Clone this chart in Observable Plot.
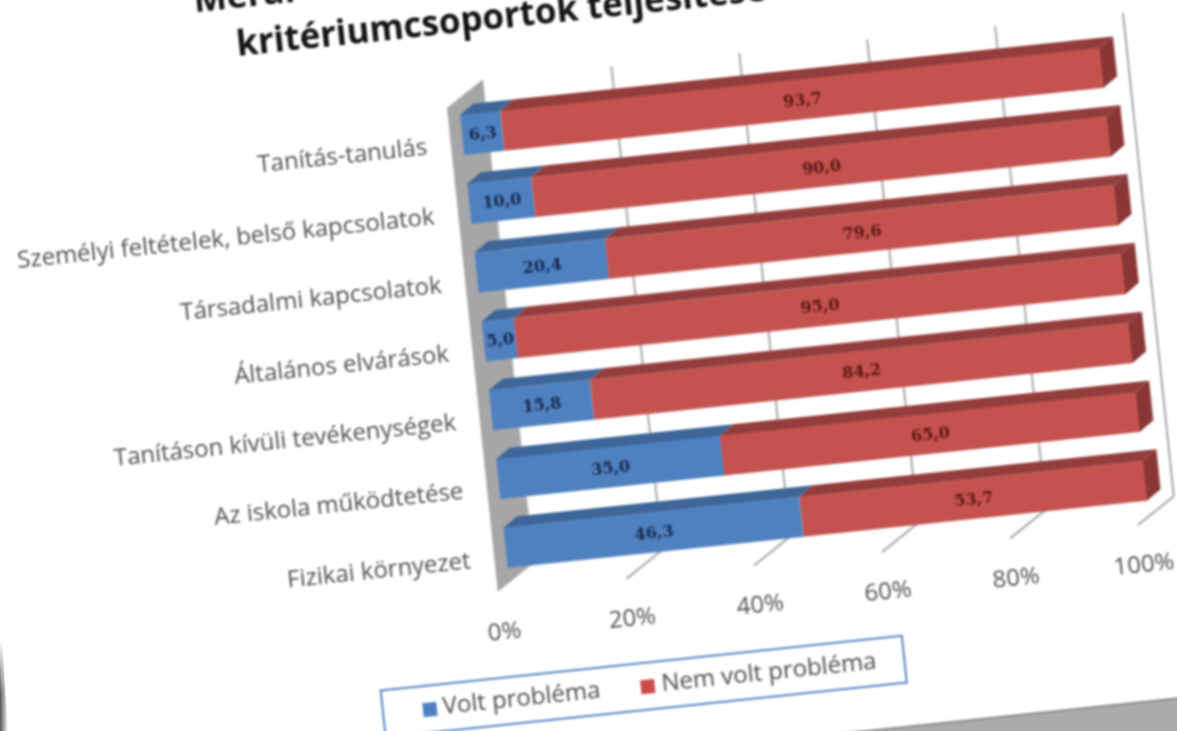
<!DOCTYPE html>
<html lang="hu">
<head>
<meta charset="utf-8">
<script src="https://cdn.jsdelivr.net/npm/d3@7"></script>
<script src="https://cdn.jsdelivr.net/npm/@observablehq/plot@0.6"></script>
<style>
html,body{margin:0;padding:0;width:1177px;height:731px;overflow:hidden;background:#fff}
#tilt{position:absolute;left:0;top:0;width:1400px;height:1100px;transform-origin:0 0;
  transform:matrix(.9945,-.1045,.1045,.9945,-66.5,-111.1);filter:blur(.8px)}
#tilt svg{position:absolute;left:0;top:0;background:transparent;overflow:visible}
.title{position:absolute;font:700 35px "Open Sans",sans-serif;color:#141414;white-space:nowrap;line-height:1}
#legend{position:absolute;left:360px;top:843px;width:522px;height:45px;border:2.5px solid #5585c4;background:#fff;
  font:500 24px "Open Sans",sans-serif;color:#4d4d4d}
#legend span{position:absolute;white-space:nowrap}
#legend i{position:absolute;width:14px;height:14px}
#floor{position:absolute;left:-300px;top:934px;width:2200px;height:400px;background:#ababab;border-top:2px solid #8d8d8d}
#edge{position:absolute;left:0;top:640px;width:8px;height:91px;background:linear-gradient(to right,#555,#fff);
  clip-path:polygon(0 0,25% 0,100% 100%,0 100%);-webkit-mask-image:linear-gradient(to bottom,transparent,#000 60%);mask-image:linear-gradient(to bottom,transparent,#000 60%)}
</style>
</head>
<body>
<div id="tilt"></div>
<div id="edge"></div>
<script>
const categories = ["Tanítás-tanulás","Személyi feltételek, belső kapcsolatok","Társadalmi kapcsolatok","Általános elvárások","Tanításon kívüli tevékenységek","Az iskola működtetése","Fizikai környezet"];
const voltProblema = [6.3,10.0,20.4,5.0,15.8,35.0,46.3];
const nemVoltProblema = [93.7,90.0,79.6,95.0,84.2,65.0,53.7];
const seriesNames = ["Volt probléma","Nem volt probléma"];
const xTicks = [0,20,40,60,80,100];
const titleLines = ["Mérai","kritériumcsoportok teljesítése"];

const halfBar = 0.29, barDx = 2.27, barDy = 0.145;
const wallFront = -1.9, wallBack = 4.13, wallTopF = -0.41, wallBotF = 6.62, wallTopB = -0.77, wallBotB = 6.26;
const hu = v => v.toFixed(1).replace(".", ",");

const segs = categories.flatMap((c,i)=>[
  {i,s:0,a:0,b:voltProblema[i],v:voltProblema[i]},
  {i,s:1,a:voltProblema[i],b:voltProblema[i]+nemVoltProblema[i],v:nemVoltProblema[i]}
]);
const quad = (id,x1a,y1a,x2a,y2a,x1b,y1b,x2b,y2b)=>[
  {id,x1:x1a,y1:y1a,x2:x2a,y2:y2a},{id,x1:x1b,y1:y1b,x2:x2b,y2:y2b}];
const topFace = s => segs.filter(d=>d.s===s).flatMap(d=>{
  const t=d.i-halfBar;
  return quad("t"+d.i,d.a,t,d.b,t,d.a+barDx,t-barDy,d.b+barDx,t-barDy);
});
const sideFace = segs.filter(d=>d.s===1).flatMap(d=>{
  const t=d.i-halfBar,u=d.i+halfBar;
  return quad("s"+d.i,d.b,t,d.b+barDx,t-barDy,d.b,u,d.b+barDx,u-barDy);
});
const wall = quad("w",wallFront,wallTopF,wallBack,wallTopB,wallFront,wallBotF,wallBack,wallBotB);
const quadMark = (rows,fill)=>Plot.area(rows,{x1:"x1",y1:"y1",x2:"x2",y2:"y2",z:"id",fill});

const chart = Plot.plot({
  width:1400,height:1100,margin:0,
  x:{domain:[0,100],range:[500,1143],axis:null},
  y:{domain:[0,6],range:[300,715.2],axis:null},
  color:{domain:seriesNames,range:["#4f81c0","#c4524f"]},
  marks:[
    Plot.link(xTicks.filter(v=>v>0),{x1:v=>v+wallBack,x2:v=>v+wallBack,y1:wallTopB,y2:wallBotB,stroke:"#a6a6a6",strokeWidth:2}),
    Plot.link(xTicks.filter(v=>v>0),{x1:v=>v+wallBack,x2:v=>v+wallFront,y1:wallBotB,y2:wallBotF,stroke:"#a6a6a6",strokeWidth:2}),
    quadMark(wall,"#a6a6a6"),
    Plot.rect(segs,{x1:"a",x2:"b",y1:d=>d.i-halfBar,y2:d=>d.i+halfBar,fill:d=>seriesNames[d.s]}),
    quadMark(topFace(0),"#3e6698"),
    quadMark(topFace(1),"#933e3c"),
    quadMark(sideFace,"#893634"),
    Plot.text(segs,{x:d=>(d.a+d.b)/2,y:"i",text:d=>hu(d.v),
      fill:d=>d.s===0?"#16294f":"#5c1614",fontFamily:"DejaVu Serif",fontWeight:700,fontSize:16}),
    Plot.text(categories,{x:-5.7,y:(d,i)=>i+0.12,text:d=>d,textAnchor:"end",fill:"#505050",fontFamily:"Open Sans",fontSize:24}),
    Plot.text(xTicks,{x:v=>v+wallFront+0.3,y:7.2,text:v=>v+"%",fill:"#505050",fontFamily:"Open Sans",fontSize:24})
  ]
});
const tilt=document.getElementById("tilt");
const floor=document.createElement("div");floor.id="floor";tilt.appendChild(floor);
tilt.appendChild(chart);
titleLines.forEach((t,k)=>{
  const el=document.createElement("div");el.className="title";el.textContent=t;
  el.style.left=(k?285:247)+"px";el.style.top=(k?167:119)+"px";tilt.appendChild(el);
});
const legend=document.createElement("div");legend.id="legend";
legend.innerHTML=`<i style="left:39px;top:16px;background:#4f81c0"></i><span style="left:59px;top:3px">${seriesNames[0]}</span>
<i style="left:258px;top:16px;background:#c94a46"></i><span style="left:279px;top:3px">${seriesNames[1]}</span>`;
tilt.appendChild(legend);
</script>
</body>
</html>
